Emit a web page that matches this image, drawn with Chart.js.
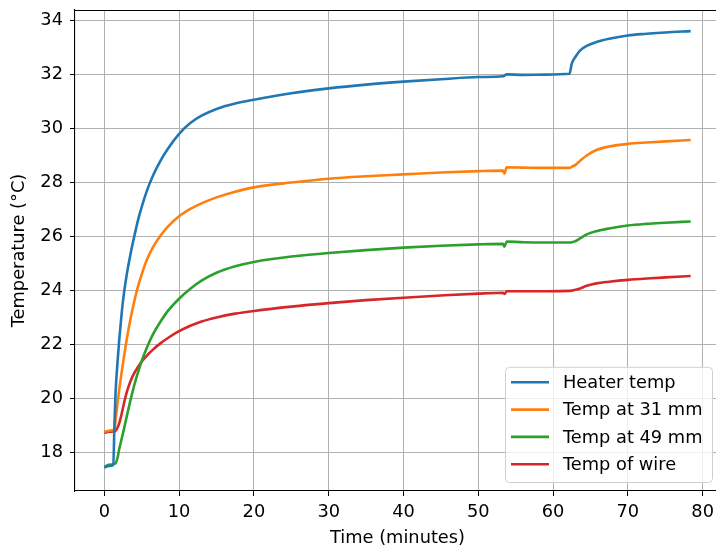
<!DOCTYPE html>
<html>
<head>
<meta charset="utf-8">
<script src="https://cdn.jsdelivr.net/npm/chart.js@4/dist/chart.umd.min.js"></script>
<style>
  html, body { margin: 0; padding: 0; background: #fff; overflow: hidden; }
  #wrap { width: 722px; height: 549px; }
</style>
</head>
<body>
<div id="wrap"><canvas id="myChart" width="722" height="549"></canvas></div>
<script>
// time in minutes, shared by all four sensors
let times = [0, 0.6, 1.2, 1.35, 1.5, 1.75, 2.0, 2.3, 2.6, 3.0, 3.5, 4.0, 4.5, 5.0, 5.7, 6.5, 7.5, 8.5, 10, 11.5,
  13, 15, 17.5, 20, 25, 30, 35, 40, 45, 50, 53.3, 53.5, 53.8, 56, 59, 62.2, 62.5, 63, 63.6, 64.5,
  65.8, 67.5, 70, 72.5, 75, 78.4]

let heater = [17.45, 17.52, 17.55, 19.0, 20.2, 21.3, 22.2, 23.1, 23.85, 24.6, 25.35, 26.0, 26.6, 27.1, 27.7, 28.25, 28.8, 29.25, 29.8, 30.2,
  30.47, 30.72, 30.92, 31.06, 31.3, 31.48, 31.62, 31.73, 31.82, 31.9, 31.93, 31.95, 32.0, 31.98, 31.99, 32.02, 32.4, 32.65, 32.88, 33.05,
  33.2, 33.32, 33.44, 33.5, 33.55, 33.6]

let at31 = [18.78, 18.82, 18.84, 18.86, 19.2, 19.8, 20.35, 20.95, 21.5, 22.2, 22.95, 23.6, 24.15, 24.6, 25.15, 25.6, 26.03, 26.37, 26.75, 27.02,
  27.23, 27.45, 27.66, 27.82, 28.0, 28.14, 28.23, 28.3, 28.37, 28.42, 28.44, 28.33, 28.56, 28.55, 28.54, 28.54, 28.58, 28.65, 28.8, 29.0,
  29.2, 29.33, 29.43, 29.48, 29.52, 29.57]

let at49 = [17.48, 17.56, 17.58, 17.6, 17.62, 17.8, 18.15, 18.5, 18.85, 19.35, 19.95, 20.5, 20.98, 21.4, 21.9, 22.38, 22.85, 23.25, 23.7, 24.07,
  24.37, 24.66, 24.9, 25.06, 25.26, 25.39, 25.5, 25.59, 25.66, 25.71, 25.73, 25.63, 25.82, 25.79, 25.78, 25.78, 25.79, 25.83, 25.93, 26.08,
  26.2, 26.3, 26.41, 26.47, 26.51, 26.56]

let wire = [18.74, 18.78, 18.79, 18.8, 18.82, 18.92, 19.1, 19.42, 19.8, 20.25, 20.65, 20.95, 21.18, 21.38, 21.6, 21.82, 22.05, 22.25, 22.5, 22.7,
  22.86, 23.01, 23.15, 23.25, 23.41, 23.54, 23.65, 23.74, 23.82, 23.89, 23.92, 23.88, 23.98, 23.98, 23.98, 23.99, 24.0, 24.03, 24.08, 24.18,
  24.27, 24.33, 24.4, 24.45, 24.49, 24.54]

let labels = ['Heater temp', 'Temp at 31 mm', 'Temp at 49 mm', 'Temp of wire']
let colors = ['#1f77b4', '#ff7f0e', '#2ca02c', '#d62728']
let xTicks = [0, 10, 20, 30, 40, 50, 60, 70, 80]
let yTicks = [18, 20, 22, 24, 26, 28, 30, 32, 34]

let font = "'DejaVu Sans', sans-serif"
let fontSize = 17.8

let series = [heater, at31, at49, wire]
let datasets = series.map((vals, i) => ({
    label: labels[i],
    data: vals.map((v, j) => ({ x: times[j], y: v })),
    borderColor: colors[i],
    backgroundColor: colors[i],
    borderWidth: 2.6,
    pointRadius: 0,
    cubicInterpolationMode: 'monotone',
    fill: false
}))

// top spine (right one falls off the picture)
const frame = {
    id: 'frame',
    afterDraw: (chart) => {
        const {ctx, chartArea} = chart
        ctx.save()
        ctx.strokeStyle = '#000'
        ctx.lineWidth = 1.1
        ctx.beginPath()
        ctx.moveTo(chartArea.left, chartArea.top + 0.5)
        ctx.lineTo(chartArea.right, chartArea.top + 0.5)
        ctx.stroke()
        ctx.restore()
    }
}

// matplotlib-like legend in the lower right corner
const boxLegend = {
    id: 'boxLegend',
    afterDraw: (chart) => {
        const {ctx, chartArea} = chart
        const sets = chart.data.datasets
        const right = chartArea.right - 8
        const bottom = chartArea.bottom - 9
        const w = 207, rowH = 27.3
        const h = sets.length * rowH + 6
        const left = right - w, top = bottom - h
        ctx.save()
        ctx.beginPath()
        ctx.roundRect(left + 0.5, top + 0.5, w, h, 4)
        ctx.fillStyle = 'rgba(255,255,255,0.8)'
        ctx.fill()
        ctx.strokeStyle = '#d0d0d0'
        ctx.lineWidth = 1
        ctx.stroke()
        ctx.font = fontSize + 'px ' + font
        ctx.textBaseline = 'middle'
        ctx.fillStyle = '#000'
        sets.forEach((ds, i) => {
            const y = top + 15.5 + i * rowH
            ctx.strokeStyle = ds.borderColor
            ctx.lineWidth = 2.6
            ctx.beginPath()
            ctx.moveTo(left + 6, y)
            ctx.lineTo(left + 44, y)
            ctx.stroke()
            ctx.fillText(ds.label, left + 58, y + 1)
        })
        ctx.restore()
    }
}

new Chart(document.getElementById('myChart'), {
    type: 'line',
    data: { datasets: datasets },
    plugins: [frame, boxLegend],
    options: {
        responsive: false,
        animation: false,
        layout: { padding: { top: 10, right: 2, left: 0, bottom: 0 } },
        plugins: {
            legend: { display: false },
            tooltip: { enabled: false }
        },
        scales: {
            x: {
                type: 'linear',
                min: -3.92,
                max: 82.32,
                afterBuildTicks: (axis) => { axis.ticks = xTicks.map(v => ({ value: v })) },
                afterFit: (axis) => { axis.height = 58; axis.paddingLeft = 0; axis.paddingRight = 0 },
                grid: { color: '#b0b0b0', lineWidth: 1, tickColor: '#000', tickLength: 5 },
                border: { color: '#000', width: 1.1 },
                ticks: { color: '#000', font: { family: font, size: fontSize }, padding: 6, maxRotation: 0 },
                title: { display: true, text: 'Time (minutes)', color: '#000', font: { family: font, size: fontSize }, padding: { top: 0, bottom: 0 } }
            },
            y: {
                type: 'linear',
                min: 16.59,
                max: 34.38,
                afterBuildTicks: (axis) => { axis.ticks = yTicks.map(v => ({ value: v })) },
                afterFit: (axis) => { axis.width = 75; axis.paddingTop = 0; axis.paddingBottom = 0 },
                grid: { color: '#b0b0b0', lineWidth: 1, tickColor: '#000', tickLength: 5 },
                border: { color: '#000', width: 1.1 },
                ticks: { color: '#000', font: { family: font, size: fontSize }, padding: 7 },
                title: { display: true, text: 'Temperature (°C)', color: '#000', font: { family: font, size: fontSize }, padding: { top: 9, bottom: 0 } }
            }
        }
    }
})
</script>
</body>
</html>
